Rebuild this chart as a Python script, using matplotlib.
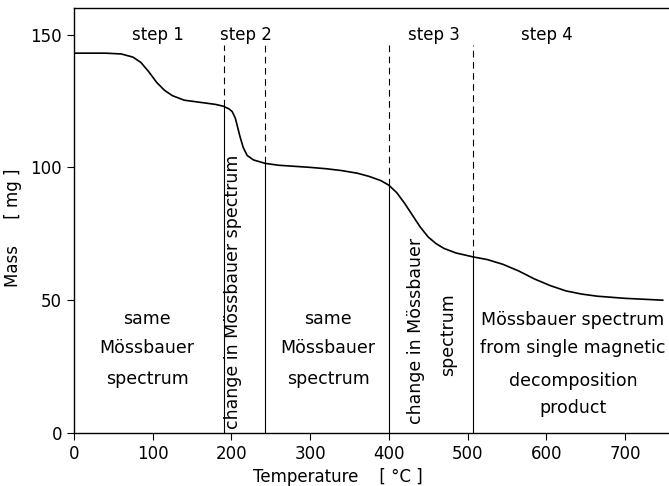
import numpy as np
import matplotlib
matplotlib.use("Agg")
import matplotlib.pyplot as plt

# Data
temperature = [0, 40, 60, 75, 85, 95, 105, 115, 125, 140, 160, 180, 190, 197, 201, 205,
               208, 211, 215, 220, 228, 243, 260, 280, 300, 320, 340, 360, 375, 390,
               400, 410, 420, 430, 440, 450, 460, 470, 485, 507, 525, 545, 565, 585,
               605, 625, 645, 665, 700, 748]
mass = [143, 143, 142.7, 141.5, 139.5, 136, 132, 129, 127, 125.3, 124.5, 123.7, 123,
        122, 121, 118.5, 115, 111.5, 107.5, 104.5, 102.8, 101.5, 100.8, 100.4, 100,
        99.5, 98.8, 97.8, 96.6, 95, 93.3, 90.5, 86.5, 82, 77.5, 73.8, 71.3, 69.5,
        67.8, 66.3, 65.3, 63.5, 61, 58, 55.5, 53.5, 52.3, 51.5, 50.7, 50]
boundaries = [190, 243, 400, 507]
dash_top = 146
step_labels = ["step 1", "step 2", "step 3", "step 4"]
step_x = [107, 218, 457, 601]
x_ticks = [0, 100, 200, 300, 400, 500, 600, 700]
y_ticks = [0, 50, 100, 150]

fig = plt.figure(figsize=(6.69, 4.86), dpi=100)
ax = fig.add_axes([74/669, 53/486, 595/669, 425/486])
ax.set_xlim(0, 756)
ax.set_ylim(0, 160)

ax.plot(temperature, mass, color="black", lw=1.2)

for b in boundaries:
    yc = np.interp(b, temperature, mass)
    ax.plot([b, b], [0, yc], color="black", lw=0.8)
    ax.plot([b, b], [yc, dash_top], color="black", lw=0.8, ls=(0, (6, 4)))

fs = 12
fb = 12.5
for lbl, xs in zip(step_labels, step_x):
    ax.text(xs, 150, lbl, ha="center", va="center", fontsize=fs)

for xc in [93, 323]:
    ax.text(xc, 43, "same", ha="center", va="center", fontsize=fb)
    ax.text(xc, 32, "Mössbauer", ha="center", va="center", fontsize=fb)
    ax.text(xc, 20.5, "spectrum", ha="center", va="center", fontsize=fb)

ax.text(202, 53, "change in Mössbauer spectrum", rotation=90, ha="center", va="center", fontsize=fb)
ax.text(435, 38.5, "change in Mössbauer", rotation=90, ha="center", va="center", fontsize=fb)
ax.text(475, 37, "spectrum", rotation=90, ha="center", va="center", fontsize=fb)

ax.text(634, 42.5, "Mössbauer spectrum", ha="center", va="center", fontsize=fb)
ax.text(634, 32, "from single magnetic", ha="center", va="center", fontsize=fb)
ax.text(634, 19.5, "decomposition", ha="center", va="center", fontsize=fb)
ax.text(634, 9.5, "product", ha="center", va="center", fontsize=fb)

ax.set_xticks(x_ticks)
ax.set_yticks(y_ticks)
ax.tick_params(direction="out", length=5, width=0.8, labelsize=12)
ax.spines["right"].set_visible(False)
for s in ["left", "bottom", "top"]:
    ax.spines[s].set_linewidth(1.0)

ax.set_xlabel("Temperature    [ °C ]", fontsize=12)
ax.xaxis.set_label_coords(0.443, -0.082)
ax.set_ylabel("Mass     [ mg ]", fontsize=12)
ax.yaxis.set_label_coords(-0.088, 0.482)

fig.savefig("out.png", dpi=100)
